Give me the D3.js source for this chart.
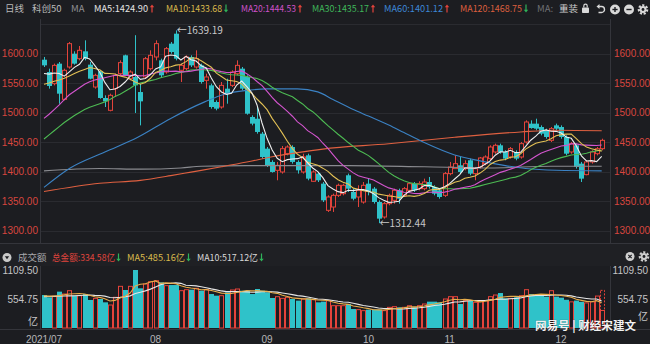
<!DOCTYPE html>
<html>
<head>
<meta charset="utf-8">
<script src="https://cdn.jsdelivr.net/npm/d3@7"></script>
<style>
html,body{margin:0;padding:0;background:#1c1d21;}
svg{display:block;font-family:"Noto Sans CJK SC","Noto Sans",sans-serif;}
.num{font-family:"Liberation Sans","Noto Sans CJK SC",sans-serif;}
</style>
</head>
<body>
<svg id="chart" width="650" height="344"></svg>
<script>
// STAR 50 (科创50) daily K-line, 2021-07-01 .. 2021-12-13
const days = [
  "07-01","07-02","07-05","07-06","07-07","07-08","07-09","07-12","07-13","07-14","07-15","07-16","07-19","07-20","07-21","07-22","07-23","07-26","07-27","07-28","07-29","07-30",
  "08-02","08-03","08-04","08-05","08-06","08-09","08-10","08-11","08-12","08-13","08-16","08-17","08-18","08-19","08-20","08-23","08-24","08-25","08-26","08-27","08-30","08-31",
  "09-01","09-02","09-03","09-06","09-07","09-08","09-09","09-10","09-13","09-14","09-15","09-16","09-17","09-22","09-23","09-24","09-27","09-28","09-29","09-30",
  "10-08","10-11","10-12","10-13","10-14","10-15","10-18","10-19","10-20","10-21","10-22","10-25","10-26","10-27","10-28","10-29",
  "11-01","11-02","11-03","11-04","11-05","11-08","11-09","11-10","11-11","11-12","11-15","11-16","11-17","11-18","11-19","11-22","11-23","11-24","11-25","11-26","11-29","11-30",
  "12-01","12-02","12-03","12-06","12-07","12-08","12-09","12-10","12-13"
];

const opens = [
  1589.5,1568.6,1548.9,1582.8,1522.3,1577.1,1599.7,1591.2,1603.7,1581.1,
  1543.2,1569.8,1524.6,1503.7,1540.4,1565.8,1596.9,1557.3,1560.2,1534.7,
  1560.2,1574.3,1594.1,1588.4,1568.6,1616.7,1633.6,1571.5,1574.3,1594.1,
  1577.1,1579.9,1554.5,1546.0,1517.8,1509.3,1540.4,1546.0,1565.8,1574.3,
  1560.2,1492.4,1489.5,1464.1,1438.7,1416.2,1402.0,1399.2,1430.2,1441.5,
  1416.2,1399.2,1427.4,1383.4,1396.4,1379.4,1334.2,1339.8,1359.6,1362.4,
  1393.6,1365.3,1356.8,1348.3,1379.4,1370.9,1348.3,1322.9,1345.5,1351.1,
  1368.1,1359.6,1368.1,1379.4,1370.9,1370.9,1382.2,1373.7,1368.1,1359.6,
  1396.4,1404.9,1410.5,1404.9,1419.0,1396.4,1407.7,1413.3,1421.8,1433.1,
  1444.4,1433.1,1424.6,1433.1,1424.6,1450.0,1481.1,1481.1,1475.4,1469.8,
  1452.8,1478.2,1475.4,1458.5,1433.1,1444.4,1413.3,1394.7,1416.2,1430.2,
  1438.7
];
const highs = [
  1594.1,1574.3,1582.8,1585.6,1574.3,1619.5,1603.7,1612.7,1622.3,1585.6,
  1565.8,1571.5,1529.1,1531.9,1565.8,1588.4,1598.0,1571.5,1631.0,1548.9,
  1594.1,1605.4,1622.3,1591.2,1611.0,1619.5,1639.19,1582.8,1596.9,1596.9,
  1605.4,1582.8,1565.8,1548.9,1520.6,1551.7,1557.3,1571.5,1588.4,1577.1,
  1563.0,1495.2,1509.3,1467.0,1441.5,1419.0,1416.2,1443.2,1444.4,1444.4,
  1419.0,1430.2,1430.2,1402.0,1399.2,1382.2,1359.6,1362.4,1379.4,1379.4,
  1396.4,1370.9,1376.6,1382.2,1387.9,1373.7,1351.1,1348.3,1362.4,1370.9,
  1370.9,1373.7,1382.2,1382.2,1383.4,1387.9,1390.7,1376.6,1370.9,1399.2,
  1416.2,1427.4,1424.6,1419.0,1421.8,1407.7,1424.6,1427.4,1444.4,1447.2,
  1447.2,1435.9,1441.5,1435.9,1450.0,1486.7,1486.7,1489.5,1478.2,1472.6,
  1475.4,1481.1,1478.2,1461.3,1450.0,1447.2,1416.2,1419.0,1435.9,1441.5,
  1455.6
];
const lows = [
  1577.1,1540.4,1546.0,1514.9,1520.6,1574.3,1581.1,1588.4,1588.4,1556.2,
  1540.4,1523.4,1509.3,1502.0,1526.3,1563.0,1561.9,1554.5,1499.2,1478.2,
  1557.3,1571.5,1588.4,1560.2,1565.8,1599.7,1588.4,1551.7,1571.5,1577.1,
  1574.3,1548.9,1540.4,1506.5,1503.7,1506.5,1514.9,1543.2,1563.0,1537.6,
  1496.3,1478.2,1464.1,1421.8,1407.7,1398.1,1385.1,1396.4,1427.4,1413.3,
  1396.4,1396.4,1385.1,1382.2,1382.2,1348.3,1331.4,1331.4,1356.8,1359.6,
  1365.3,1351.1,1339.8,1345.5,1359.6,1345.5,1312.44,1320.1,1342.7,1345.5,
  1345.5,1356.8,1365.3,1365.3,1368.1,1368.1,1370.9,1359.6,1353.9,1356.8,
  1393.6,1404.9,1396.4,1402.0,1393.6,1385.1,1404.9,1410.5,1419.0,1430.2,
  1430.2,1419.0,1421.8,1419.0,1421.8,1447.2,1472.6,1469.8,1461.3,1455.6,
  1450.0,1469.8,1455.6,1427.4,1430.2,1404.9,1382.2,1393.6,1413.3,1427.4,
  1435.9
];
const closes = [
  1579.9,1544.9,1579.9,1531.9,1571.5,1616.7,1582.8,1605.4,1591.2,1557.3,
  1563.0,1524.6,1518.9,1529.1,1563.0,1584.5,1563.0,1568.6,1546.0,1518.9,
  1591.2,1596.9,1616.7,1563.0,1608.2,1602.5,1591.2,1579.9,1594.1,1579.9,
  1591.2,1551.7,1560.2,1509.3,1506.5,1546.0,1531.9,1568.6,1579.9,1540.4,
  1498.0,1481.1,1467.0,1424.6,1410.5,1399.2,1410.5,1438.7,1441.5,1416.2,
  1402.0,1424.6,1387.9,1399.2,1385.1,1351.1,1356.8,1359.6,1376.6,1376.6,
  1370.9,1353.9,1368.1,1376.6,1365.3,1348.3,1320.1,1345.5,1359.6,1368.1,
  1353.9,1370.9,1379.4,1368.1,1379.4,1382.2,1373.7,1362.4,1356.8,1396.4,
  1407.7,1413.3,1399.2,1413.3,1396.4,1404.9,1422.9,1424.6,1441.5,1444.4,
  1433.1,1421.8,1438.7,1421.8,1447.2,1483.9,1473.7,1472.6,1464.1,1458.5,
  1472.6,1472.6,1458.5,1430.2,1447.2,1407.7,1387.9,1416.2,1433.1,1438.7,
  1452.8
];

// turnover, 亿元
const amounts = [
  631,587,606,695,650,714,618,618,650,536,
  567,555,491,440,587,797,727,797,1109.5,759,
  842,886,905,873,810,822,822,714,733,733,
  759,714,733,650,618,618,682,727,746,714,
  714,650,746,714,682,574,599,567,587,555,
  523,555,567,542,491,504,523,427,427,427,
  459,363,351,332,351,351,351,332,395,408,
  395,395,427,395,427,459,504,504,491,555,
  599,599,459,523,523,491,504,523,599,631,
  669,567,567,587,618,733,650,618,618,599,
  714,600,580,540,500,525,500,480,500,611,
  334.58
];
const lastDayEstimate = 720; // projected full-day turnover for the session in progress

// averages before the window is full (carried over from earlier sessions)
const ma5Lead  = [1566,1565,1567,1566];
const ma10Lead = [1548,1550,1553,1555,1558,1562,1566,1570,1573];
const ma20Lead = [1490,1497,1505,1513,1522,1530,1536,1542,1548,1552,1555,1557,1559,1561,1563,1563,1563,1563,1563];
const ma30Lead = [1455,1462,1469,1476,1483,1489,1495,1500,1505,1509,1512,1515,1518,1522,1527,1531,1536,1541,1547,1550,1552,1554,1556,1559,1561,1563,1566,1568,1570];
const volMa5Lead  = [615,610,612,620];
const volMa10Lead = [600,602,605,608,612,615,618,622,626];

// long averages, [session index, value]
const ma60Pts  = [[0,1373],[5,1405],[12,1433],[18.5,1458],[25,1490],[31.7,1518],[35.6,1531],[39.6,1537],[44,1540],[50,1540],[54,1535],[57,1522],[61,1505],[64,1494],[68,1479],[71,1466],[75,1449],[81,1428],[86,1418],[91,1410],[95,1405],[101,1402],[110,1401]];
const ma120Pts = [[0,1366],[11,1380],[19,1385],[25,1393],[29,1399],[35,1408],[40,1416],[45,1425],[50,1432],[55,1438],[68,1447],[81,1458],[94,1467],[101,1470],[110,1469]];
const ma250Pts = [[0,1401],[11,1405],[19,1404],[27,1406],[31,1409],[40,1410],[50,1410],[60,1410],[75,1408],[88,1406],[100,1409],[110,1409]];

const priceGrid  = [1300,1350,1400,1450,1500,1550,1600,1650];
const priceTicks = [1300,1350,1400,1450,1500,1550,1600];
const volTicks   = [["1109.50",1109.5],["554.75",554.75],["亿",0]];
const monthTicks = [["07-01","2021/07"],["08-02","08"],["09-01","09"],["10-08","10"],["11-01","11"],["12-01","12"]];

const maLegend = [
  {label:"MA5:1424.90",   color:"#e4e4e4", up:true,  x:94,  w:54},
  {label:"MA10:1433.68",  color:"#d9b94c", up:false, x:166, w:56},
  {label:"MA20:1444.53",  color:"#cf52c9", up:true,  x:241, w:55},
  {label:"MA30:1435.17",  color:"#3fb75a", up:true,  x:312, w:57},
  {label:"MA60:1401.12",  color:"#3d87d6", up:true,  x:384, w:59},
  {label:"MA120:1468.75", color:"#dc5f3e", up:false, x:460, w:62}
];
const volLegend = [
  {label:"总金额:334.58亿", color:"#e0453d", x:52,  w:63},
  {label:"MA5:485.16亿",   color:"#d9b94c", x:127, w:58},
  {label:"MA10:517.12亿",  color:"#d8d8d8", x:197, w:61}
];

// ---------------------------------------------------------------
const W = 650, H = 344;
const BG = "#1c1d21", GRID = "#2a2b30", BORDER = "#34353b";
const RED = "#e4433b", CYAN = "#2fc2c9", GREEN_ARROW = "#2fb45a";
const plotL = 40, plotR = 611, plotT = 19, plotB = 243;

const svg = d3.select("#chart");
svg.append("rect").attr("width", W).attr("height", H).attr("fill", BG);

const x  = d3.scalePoint().domain(days).range([44, 601.7]);
const y  = d3.scaleLinear().domain([1300, 1650]).range([230.5, 24]);
const yv = d3.scaleLinear().domain([0, 1109.5]).range([328, 270]);
const xi = i => x(days[0]) + i * x.step();

// grid
svg.append("g").selectAll("line").data(priceGrid).join("line")
  .attr("x1", plotL).attr("x2", plotR)
  .attr("y1", d => Math.round(y(d)) + 0.5).attr("y2", d => Math.round(y(d)) + 0.5)
  .attr("stroke", GRID).attr("stroke-width", 1);

// panel frame
const frame = svg.append("g").attr("stroke", BORDER).attr("stroke-width", 1);
frame.append("line").attr("x1", 0).attr("x2", W).attr("y1", plotB + 0.5).attr("y2", plotB + 0.5);
frame.append("line").attr("x1", 0).attr("x2", W).attr("y1", 329.5).attr("y2", 329.5);
[plotL + 0.5, plotR - 0.5].forEach(px => {
  frame.append("line").attr("x1", px).attr("x2", px).attr("y1", plotT).attr("y2", plotB);
  frame.append("line").attr("x1", px).attr("x2", px).attr("y1", 266).attr("y2", 329);
});
svg.append("rect").attr("x", 0).attr("y", plotB + 1).attr("width", W).attr("height", 22).attr("fill", "#1f2024");

// price labels, both sides
const priceLabels = svg.append("g").attr("class", "num").attr("font-size", 10).attr("fill", "#d8463f");
priceLabels.selectAll("text.l").data(priceTicks).join("text").attr("class", "l")
  .attr("x", 38).attr("y", d => y(d)).attr("dy", "0.35em").attr("text-anchor", "end")
  .text(d => d3.format(".2f")(d));
priceLabels.selectAll("text.r").data(priceTicks).join("text").attr("class", "r")
  .attr("x", 614).attr("y", d => y(d)).attr("dy", "0.35em").attr("text-anchor", "start")
  .text(d => d3.format(".2f")(d));

// clip for the price panel
svg.append("defs").append("clipPath").attr("id", "pclip")
  .append("rect").attr("x", plotL + 1).attr("y", plotT).attr("width", plotR - plotL - 2).attr("height", plotB - plotT);

const idx = d3.range(days.length);
const isUp = i => closes[i] >= opens[i];

// moving averages
function movingAvg(vals, n, lead) {
  return vals.map((v, i) => i < n - 1 ? lead[i] : d3.mean(vals.slice(i - n + 1, i + 1)));
}
const ma5  = movingAvg(closes, 5, ma5Lead);
const ma10 = movingAvg(closes, 10, ma10Lead);
const ma20 = movingAvg(closes, 20, ma20Lead);
const ma30 = movingAvg(closes, 30, ma30Lead);

const pricePanel = svg.append("g").attr("clip-path", "url(#pclip)");

// candles
const candles = pricePanel.append("g");
idx.forEach(i => {
  const cx = Math.round(x(days[i])) + 0.5;
  const col = isUp(i) ? RED : CYAN;
  const top = y(Math.max(opens[i], closes[i]));
  const bot = y(Math.min(opens[i], closes[i]));
  candles.append("line")
    .attr("x1", cx).attr("x2", cx).attr("y1", y(highs[i])).attr("y2", isUp(i) ? top : y(lows[i]))
    .attr("stroke", col).attr("stroke-width", 1);
  if (isUp(i)) {
    candles.append("line")
      .attr("x1", cx).attr("x2", cx).attr("y1", bot).attr("y2", y(lows[i]))
      .attr("stroke", col).attr("stroke-width", 1);
    candles.append("rect")
      .attr("x", cx - 2).attr("y", top).attr("width", 4).attr("height", Math.max(1, bot - top))
      .attr("fill", BG).attr("stroke", col).attr("stroke-width", 1);
  } else {
    candles.append("rect")
      .attr("x", cx - 2.5).attr("y", top).attr("width", 5).attr("height", Math.max(1, bot - top))
      .attr("fill", col);
  }
});

// average lines
const dailyLine = d3.line().x((d, i) => x(days[i])).y(d => y(d));
const ptsLine = d3.line().x(d => xi(d[0])).y(d => y(d[1])).curve(d3.curveMonotoneX);
const maLayer = pricePanel.append("g").attr("fill", "none").attr("stroke-width", 1.1);
maLayer.append("path").attr("d", ptsLine(ma250Pts)).attr("stroke", "#8a8b90");
maLayer.append("path").attr("d", ptsLine(ma120Pts)).attr("stroke", "#df6040");
maLayer.append("path").attr("d", ptsLine(ma60Pts)).attr("stroke", "#3b82c4");
maLayer.append("path").attr("d", dailyLine(ma30)).attr("stroke", "#4dbb53");
maLayer.append("path").attr("d", dailyLine(ma20)).attr("stroke", "#d455cf");
maLayer.append("path").attr("d", dailyLine(ma10)).attr("stroke", "#e3c155");
maLayer.append("path").attr("d", dailyLine(ma5)).attr("stroke", "#eeeeee");

// extreme-value markers
const iHigh = d3.maxIndex(highs), iLow = d3.minIndex(lows);
svg.append("text").attr("x", x(days[iHigh]) + 1).attr("y", y(highs[iHigh])).attr("dy", "0.35em")
  .attr("font-size", 10).attr("fill", "#c9c9c9").text("←" + d3.format(".2f")(highs[iHigh]));
svg.append("text").attr("x", x(days[iLow]) + 1).attr("y", y(lows[iLow])).attr("dy", "0.35em")
  .attr("font-size", 10).attr("fill", "#c9c9c9").text("←" + d3.format(".2f")(lows[iLow]));

// small trend arrow drawn as a shape
function trendArrow(g, ax, cy, up) {
  const col = up ? RED : GREEN_ARROW;
  const yTip = up ? cy - 4 : cy + 4, yTail = up ? cy + 4 : cy - 4, s = up ? 1 : -1;
  g.append("line").attr("x1", ax).attr("x2", ax).attr("y1", yTail).attr("y2", yTip + s * 1.5)
    .attr("stroke", col).attr("stroke-width", 1.2);
  g.append("path").attr("d", `M${ax - 2.2},${yTip + s * 2.8} L${ax},${yTip} L${ax + 2.2},${yTip + s * 2.8} Z`).attr("fill", col);
}
// settings gear drawn as a shape
function gear(g, cx, cy, col) {
  g.append("circle").attr("cx", cx).attr("cy", cy).attr("r", 4.2).attr("fill", "none")
    .attr("stroke", col).attr("stroke-width", 2.2).attr("stroke-dasharray", "2.1,1.6");
  g.append("circle").attr("cx", cx).attr("cy", cy).attr("r", 3.4).attr("fill", col);
  g.append("circle").attr("cx", cx).attr("cy", cy).attr("r", 1.4).attr("fill", BG);
}

// header legend
const head = svg.append("g").attr("font-size", 9.5);
head.append("text").attr("x", 5).attr("y", 12).attr("fill", "#b9b9b9").text("日线");
head.append("text").attr("x", 32).attr("y", 12).attr("fill", "#b9b9b9").text("科创50");
head.append("text").attr("x", 71).attr("y", 12).attr("fill", "#8f8f93").text("MA");
maLegend.forEach(m => {
  head.append("text").attr("x", m.x).attr("y", 12).attr("fill", m.color)
    .attr("textLength", m.w).attr("lengthAdjust", "spacingAndGlyphs").text(m.label);
  trendArrow(head, m.x + m.w + 4, 8.5, m.up);
});
head.append("text").attr("x", 537).attr("y", 12).attr("fill", "#6f7074").text("MA:");
head.append("text").attr("x", 559).attr("y", 12).attr("fill", "#cfcfcf").text("重装");

// toolbar icons
const icons = svg.append("g").attr("fill", "#d9d9d9").attr("stroke", "none");
icons.append("rect").attr("x", 582).attr("y", 7.5).attr("width", 7).attr("height", 5.5).attr("rx", 0.8);
icons.append("path").attr("d", "M583.8,7.5 v-1.6 a1.7,1.7 0 0 1 3.4,0 v1.6").attr("fill", "none").attr("stroke", "#d9d9d9").attr("stroke-width", 1.2);
icons.append("path").attr("d", "M598,6.5 h3.5 a3,3 0 0 1 0,6 h-3").attr("fill", "none").attr("stroke", "#d9d9d9").attr("stroke-width", 1.4);
icons.append("path").attr("d", "M596.5,6.5 l3,-2.4 v4.8 z");
[[615, "plus"], [629, "minus"]].forEach(([cx, kind]) => {
  icons.append("circle").attr("cx", cx).attr("cy", 9.5).attr("r", 5);
  icons.append("line").attr("x1", cx - 2.6).attr("x2", cx + 2.6).attr("y1", 9.5).attr("y2", 9.5).attr("stroke", BG).attr("stroke-width", 1.4);
  if (kind === "plus") icons.append("line").attr("x1", cx).attr("x2", cx).attr("y1", 6.9).attr("y2", 12.1).attr("stroke", BG).attr("stroke-width", 1.4);
});
gear(icons, 643, 9.5, "#d9d9d9");

// volume panel header
const vh = svg.append("g").attr("font-size", 9.5);
vh.append("circle").attr("cx", 7).attr("cy", 257.5).attr("r", 4.5).attr("fill", "#c9c9c9");
vh.append("path").attr("d", "M4.8,256.2 h4.4 l-2.2,3 z").attr("fill", BG);
vh.append("text").attr("x", 18).attr("y", 261).attr("fill", "#a9a9ad").text("成交额");
volLegend.forEach(m => {
  vh.append("text").attr("x", m.x).attr("y", 261).attr("fill", m.color)
    .attr("textLength", m.w).attr("lengthAdjust", "spacingAndGlyphs").text(m.label);
  trendArrow(vh, m.x + m.w + 3.5, 257.5, false);
});
vh.append("circle").attr("cx", 630).attr("cy", 256.5).attr("r", 4.5).attr("fill", "#cfcfcf");
vh.append("path").attr("d", "M628.3,254.8 l3.4,3.4 M631.7,254.8 l-3.4,3.4").attr("stroke", BG).attr("stroke-width", 1.2);
gear(vh, 644, 256.5, "#cfcfcf");

// volume axis labels
const vl = svg.append("g").attr("class", "num").attr("font-size", 10).attr("fill", "#c4c4c6");
vl.selectAll("text.l").data(volTicks).join("text").attr("class", "l")
  .attr("x", 38).attr("y", d => d[1] === 0 ? 321.5 : yv(d[1]) + 0.5).attr("dy", "0.35em").attr("text-anchor", "end")
  .text(d => d[0]);
vl.selectAll("text.r").data(volTicks).join("text").attr("class", "r")
  .attr("x", 648).attr("y", d => d[1] === 0 ? 316 : yv(d[1]) + 0.5).attr("dy", "0.35em")
  .attr("text-anchor", "end")
  .text(d => d[0]);

// volume bars
const vb = svg.append("g");
idx.forEach(i => {
  const cx = Math.round(x(days[i])) + 0.5;
  const top = yv(amounts[i]);
  if (isUp(i)) {
    vb.append("rect").attr("x", cx - 2).attr("y", top).attr("width", 4).attr("height", 328 - top)
      .attr("fill", BG).attr("stroke", RED).attr("stroke-width", 1);
  } else {
    vb.append("rect").attr("x", cx - 2.5).attr("y", top).attr("width", 5).attr("height", 328 - top)
      .attr("fill", CYAN);
  }
});
// session still trading: projected turnover outline
{
  const i = days.length - 1;
  const cx = Math.round(x(days[i])) + 0.5;
  vb.append("rect").attr("x", cx - 2).attr("y", yv(lastDayEstimate)).attr("width", 4)
    .attr("height", yv(amounts[i]) - yv(lastDayEstimate))
    .attr("fill", "none").attr("stroke", RED).attr("stroke-width", 1).attr("stroke-dasharray", "2,1.5");
}

// volume averages
const vma5  = movingAvg(amounts, 5, volMa5Lead);
const vma10 = movingAvg(amounts, 10, volMa10Lead);
const vLine = d3.line().x((d, i) => x(days[i])).y(d => yv(d));
svg.append("path").attr("d", vLine(vma10)).attr("fill", "none").attr("stroke", "#e6e6e6").attr("stroke-width", 1.1);
svg.append("path").attr("d", vLine(vma5)).attr("fill", "none").attr("stroke", "#e7ad4b").attr("stroke-width", 1.1);

// date axis
svg.append("g").attr("class", "num").attr("font-size", 10).attr("fill", "#b5b5b8")
  .selectAll("text").data(monthTicks).join("text")
  .attr("x", d => x(d[0])).attr("y", 342.5).attr("text-anchor", "middle").text(d => d[1]);

// publisher mark
svg.append("text").attr("x", 535).attr("y", 330).attr("font-size", 11.5).attr("font-weight", 700)
  .attr("textLength", 101).attr("lengthAdjust", "spacingAndGlyphs")
  .attr("fill", "#f2f2f2").attr("stroke", "rgba(0,0,0,0.35)").attr("stroke-width", 0.6).attr("paint-order", "stroke")
  .text("网易号 | 财经宋建文");
</script>
</body>
</html>
